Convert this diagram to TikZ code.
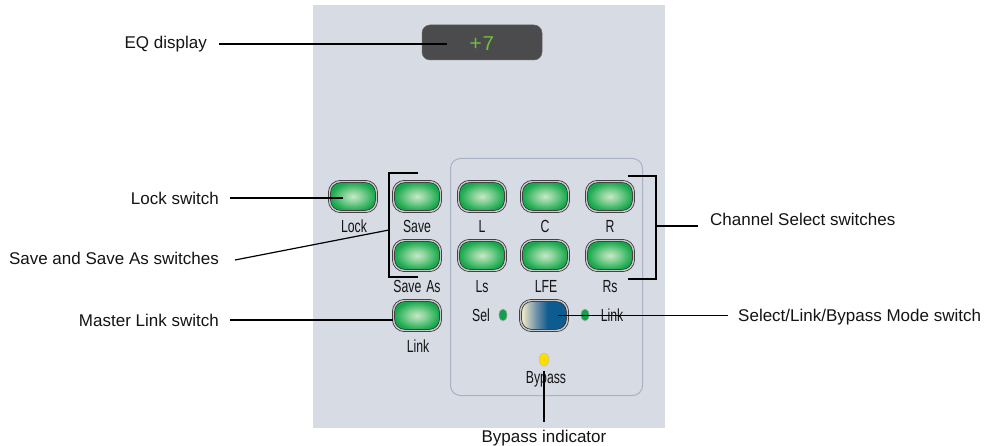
\documentclass[tikz,border=0pt]{standalone}
\usepackage{fontspec}
\setmainfont{Liberation Sans}
\newfontfamily\narrowfont[FakeStretch=0.7]{Liberation Sans}
\newfontfamily\lcdfont{Liberation Mono}
\usetikzlibrary{shapes.geometric}
\definecolor{panelbg}{HTML}{D6DBE4}
\definecolor{innerline}{HTML}{A9B1C7}
\definecolor{lcdbg}{HTML}{4B4B4D}
\definecolor{lcdgreen}{HTML}{6DBE3C}
\definecolor{gcen}{HTML}{C8E8C8}
\definecolor{gmid}{HTML}{8AD39A}
\definecolor{gout}{HTML}{17A84C}
\definecolor{btnline}{HTML}{303030}
\definecolor{btnring}{HTML}{C4C7CC}
\definecolor{mcream}{HTML}{EDE9C6}
\definecolor{mmid}{HTML}{6E8FA8}
\definecolor{mblue}{HTML}{0D5C8F}
\definecolor{ledgreen}{HTML}{12A04A}
\definecolor{ledyellow}{HTML}{FFDD00}
\definecolor{txt}{HTML}{141414}
\pgfdeclareradialshading{greenbtn}{\pgfpoint{0bp}{0bp}}{color(0bp)=(gcen); color(9bp)=(gmid); color(24bp)=(gout); color(50bp)=(gout)}
\pgfdeclarehorizontalshading{modeshade}{100bp}{color(0bp)=(mcream); color(27bp)=(mcream); color(42bp)=(mmid); color(54bp)=(mblue); color(100bp)=(mblue)}
\begin{document}
\begin{tikzpicture}[x=1pt,y=-1pt,
  btn/.style={rectangle, rounded corners=11pt, minimum width=47pt, minimum height=30pt, inner sep=0pt, draw=btnline, double=btnring, double distance=1.4pt, line width=0.75pt},
  gbtn/.style={btn, shade, shading=greenbtn},
  lbl/.style={font=\narrowfont\fontsize{17.5}{17.5}\selectfont, inner sep=0pt, anchor=base, text=txt},
  callout/.style={font=\fontsize{17}{17}\selectfont, inner sep=0pt, text=txt},
  leader/.style={draw=black, line width=1.6pt},
  led/.style={ellipse, minimum width=8pt, minimum height=12pt, inner sep=0pt, draw=black!35, line width=0.5pt}
]
\useasboundingbox[fill=white] (0,0) rectangle (990,446);
% panel
\node[fill=panelbg, minimum width=352pt, minimum height=423pt, inner sep=0pt, anchor=north west] (panel) at (313,5) {};
\node[draw=innerline, fill=panelbg, line width=1pt, rounded corners=10pt, minimum width=192pt, minimum height=237pt, inner sep=0pt, anchor=north west] (chanbox) at (450,158) {};
% EQ display
\node[fill=lcdbg, draw=black!60, line width=0.5pt, rounded corners=8pt, minimum width=120pt, minimum height=35pt, inner sep=0pt] (eqdisp) at (482,42.5) {};
\node[text=lcdgreen, font=\lcdfont\fontsize{21}{21}\selectfont, inner sep=0pt] (eqval) at (482,44) {+7};
% buttons
\node[gbtn] (lock) at (353,196.5) {};
\node[gbtn] (save) at (417,196.5) {};
\node[gbtn] (L) at (482,196.5) {};
\node[gbtn] (C) at (545,196.5) {};
\node[gbtn] (R) at (610,196.5) {};
\node[gbtn] (saveas) at (417,255.5) {};
\node[gbtn] (Ls) at (482,255.5) {};
\node[gbtn] (LFE) at (545,255.5) {};
\node[gbtn] (Rs) at (610,255.5) {};
\node[gbtn] (mlink) at (417,315.5) {};
\node[btn, shade, shading=modeshade] (mode) at (544,315.5) {};
% button labels
\node[lbl] (locklbl) at (354,233) {Lock};
\node[lbl] (savelbl) at (417,233) {Save};
\node[lbl] (Llbl) at (482,233) {L};
\node[lbl] (Clbl) at (545,233) {C};
\node[lbl] (Rlbl) at (610,233) {R};
\node[lbl] (saveaslbl) at (417,292) {Save\hspace{5pt}As};
\node[lbl] (Lslbl) at (482,292) {Ls};
\node[lbl] (LFElbl) at (546,292) {LFE};
\node[lbl] (Rslbl) at (610,292) {Rs};
\node[lbl] (mlinklbl) at (418,352) {Link};
\node[lbl] (sellbl) at (481,321) {Sel};
\node[lbl] (linklbl) at (612,321) {Link};
\node[lbl] (bypasslbl) at (546,383) {Bypass};
% LEDs
\node[led, fill=ledgreen] (selled) at (503,315) {};
\node[led, fill=ledgreen] (linkled) at (585,315) {};
\node[led, fill=ledyellow, minimum width=10pt, minimum height=13pt, draw=black!25] (bypled) at (544,359.5) {};
% brackets
\draw[leader] (418,173) -- (389,173) -- (389,277) -- (418,277);
\coordinate (savebr) at (389,230);
\draw[leader] (628,176) -- (656,176) -- (656,279) -- (628,279);
\coordinate (chanbr) at (656,226);
% callout texts
\node[callout, anchor=east] (eqtxt) at (207,44) {EQ display};
\node[callout, anchor=east] (locktxt) at (219,198) {Lock switch};
\node[callout, anchor=east] (savetxt) at (219,258.5) {Save and Save As switches};
\node[callout, anchor=east] (mlinktxt) at (219,320) {Master Link switch};
\node[callout, anchor=west] (chantxt) at (710,219) {Channel Select switches};
\node[callout, anchor=west] (modetxt) at (738,317.5) {Select/Link/Bypass Mode switch};
\node[callout, anchor=base] (bypasstxt) at (544,442) {Bypass indicator};
% leaders
\draw[leader] ([xshift=12pt]eqtxt.east) -- ([xshift=-35pt]eqdisp.center |- eqtxt.east);
\draw[leader] ([xshift=11pt]locktxt.east) -- ([xshift=-10pt]lock.center |- locktxt.east);
\draw[leader, line width=1.2pt] ([xshift=16pt,yshift=-1.5pt]savetxt.east) -- (savebr);
\draw[leader] ([xshift=11pt]mlinktxt.east) -- ([xshift=-24pt]mlink.center |- mlinktxt.east);
\draw[leader] (chanbr) -- ([xshift=-12pt]chantxt.west |- chanbr);
\draw[leader] ([xshift=14pt]mode.center) -- ([xshift=-10pt]modetxt.west |- mode.center);
\draw[leader] ([yshift=-11.5pt]bypled.center) -- ([yshift=7pt]bypasstxt.north);
\end{tikzpicture}
\end{document}
